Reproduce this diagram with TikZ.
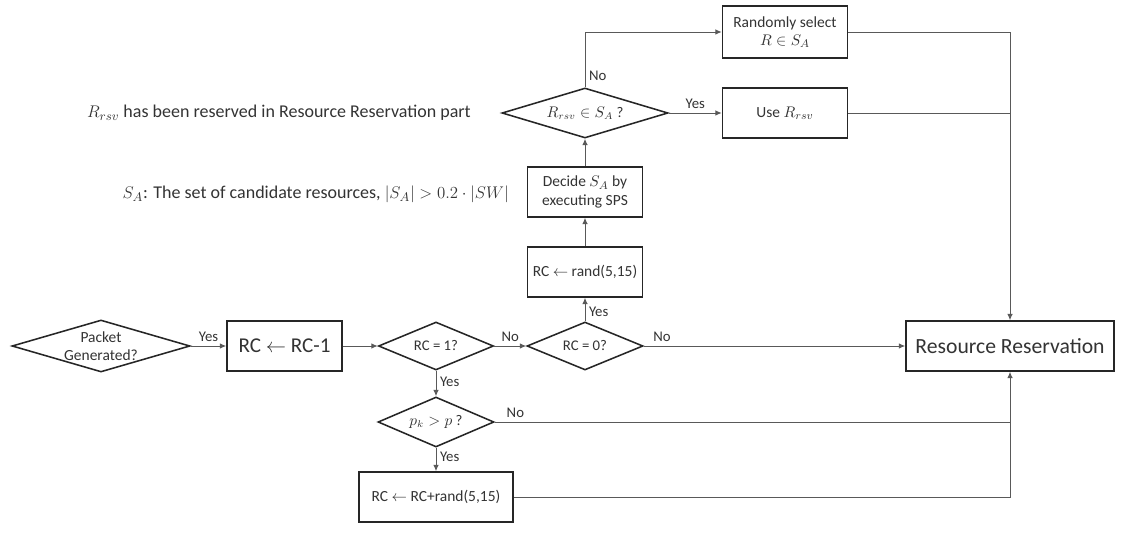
\documentclass[tikz,border=0pt]{standalone}
\usepackage{fontspec}
\setmainfont{Carlito}
\usetikzlibrary{shapes.geometric,arrows.meta}

\tikzset{
  proc/.style={draw=black!85, line width=1.1pt, minimum width=2.875cm, minimum height=1.25cm,
    font=\fontsize{11}{13}\selectfont, text=black!80},
  decision/.style={diamond, draw=black!85, line width=1.1pt, inner sep=0pt, aspect=2.4,
    font=\fontsize{10.5}{12}\selectfont, text=black!80},
  flow/.style={draw=black!65, line width=0.7pt, -{Latex[length=4.5pt,width=4pt]}},
  link/.style={draw=black!65, line width=0.7pt},
  tag/.style={font=\fontsize{10.5}{12}\selectfont, text=black!80, inner sep=2.5pt},
  note/.style={font=\fontsize{12.8}{15}\selectfont, text=black!80, anchor=east, inner sep=0pt},
}

\begin{document}
\begin{tikzpicture}[x=0.025cm, y=-0.025cm]
  \useasboundingbox (0,0) rectangle (1128,543);

  % Main row
  \node[decision, minimum width=4.45cm, minimum height=1.3cm] (pkt) at (101,346) {};
  \node[font=\fontsize{11}{12.5}\selectfont, text=black!80, align=center] (pkttxt) at (pkt) {Packet\\Generated?};
  \node[proc, font=\fontsize{15}{18}\selectfont] (dec) at (284.5,346) {RC $\leftarrow$ RC-1};
  \node[decision, minimum width=2.875cm, minimum height=1.2cm] (d1) at (436,346) {RC = 1?};
  \node[decision, minimum width=2.9cm, minimum height=1.2cm] (d0) at (585,346) {RC = 0?};
  \node[proc, minimum width=5.2cm, font=\fontsize{15.4}{18}\selectfont] (rr) at (1010,346) {Resource Reservation};

  % Upper branch
  \node[proc] (rnd) at (585,272) {RC $\leftarrow$ rand(5,15)};
  \node[proc, align=center] (sps) at (585,192) {Decide $S_A$ by\\executing SPS};
  \node[decision, minimum width=4.15cm, minimum height=1.25cm, aspect=3.3] (drsv) at (585,113) {$R_{rsv}\in S_A$ ?};
  \node[proc, minimum width=3.125cm] (use) at (785,113) {Use $R_{rsv}$};
  \node[proc, minimum width=3.125cm, minimum height=1.3cm, align=center] (sel) at (785,32) {Randomly select\\$R\in S_A$};

  % Lower branch
  \node[decision, minimum width=2.9cm, minimum height=1.25cm] (dpk) at (436,422) {$p_k > p$ ?};
  \node[proc, minimum width=3.85cm] (add) at (436,497) {RC $\leftarrow$ RC+rand(5,15)};

  % Notes
  \node[note] (n1) at (471,113) {$R_{rsv}$ has been reserved in Resource Reservation part};
  \node[note] (n2) at (509,194) {$S_A$: The set of candidate resources, $|S_A|>0.2\cdot|SW|$};

  % Connectors
  \draw[flow] (pkt.east) -- node[tag, above] (l1) {Yes} (dec.west);
  \draw[flow] (dec.east) -- (d1.west);
  \draw[flow] (d1.east) -- node[tag, above] (l2) {No} (d0.west);
  \draw[flow] (d0.east) -- node[tag, above, pos=0.07] (l3) {No} (rr.west);
  \draw[flow] (d0.north) -- node[tag, right, pos=0.4] (l4) {Yes} (rnd.south);
  \draw[flow] (rnd.north) -- (sps.south);
  \draw[flow] (sps.north) -- (drsv.south);
  \draw[flow] (drsv.east) -- node[tag, above] (l5) {Yes} (use.west);
  \draw[flow] (drsv.north) |- node[tag, right, pos=0.1] (l6) {No} (sel.west);
  \draw[flow] (sel.east) -| (rr.north);
  \draw[link] (use.east) -- (use.east -| rr.north);
  \draw[flow] (d1.south) -- node[tag, right, pos=0.45] (l7) {Yes} (dpk.north);
  \draw[flow] (dpk.south) -- node[tag, right, pos=0.4] (l9) {Yes} (add.north);
  \draw[flow] (add.east) -| (rr.south);
  \draw[link] (dpk.east) -- node[tag, above, pos=0.04] (l8) {No} (dpk.east -| rr.south);
\end{tikzpicture}
\end{document}
